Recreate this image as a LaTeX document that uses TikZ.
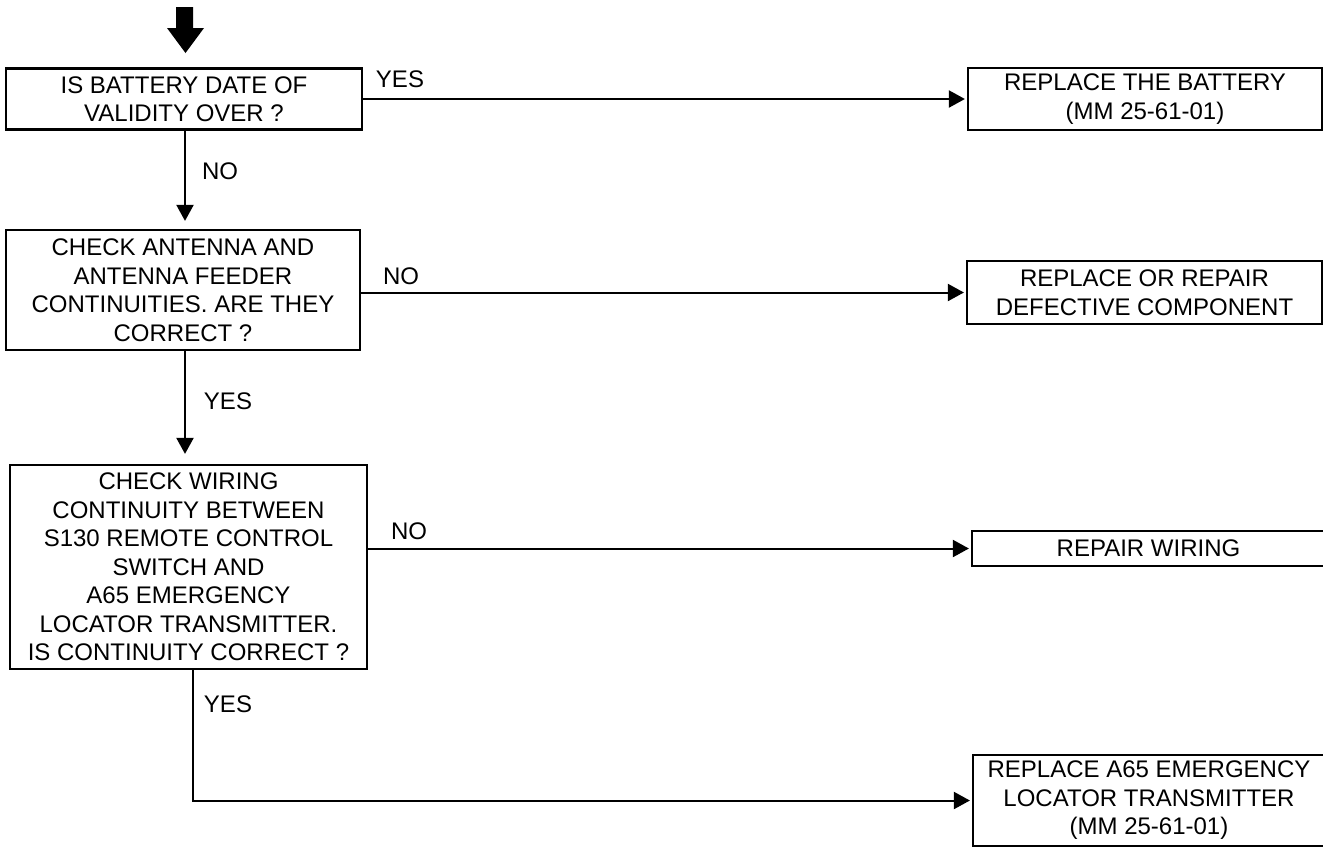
\documentclass[tikz,border=0pt]{standalone}
\usepackage{fontspec}
\setmainfont{Liberation Sans}
\usetikzlibrary{arrows.meta,calc}
\begin{document}
\begin{tikzpicture}[x=1pt,y=-1pt,
  box/.style={draw, line width=2.2pt, inner sep=0pt, align=center, font=\fontsize{24}{28.5}\selectfont},
  lbl/.style={inner sep=0pt, font=\fontsize{24}{28.5}\selectfont},
  arr/.style={line width=2pt, -{Triangle[length=16pt,width=17pt]}},
  conn/.style={line width=2pt}]
\useasboundingbox (0,0) rectangle (1323,847);
% boxes
\node[box, minimum width=356pt, minimum height=61pt] (b1) at (184,99) {IS BATTERY DATE OF\\VALIDITY OVER ?};
\node[box, minimum width=354pt, minimum height=62pt] (r1) at (1145,99) {REPLACE THE BATTERY\\(MM 25-61-01)};
\node[box, minimum width=354pt, minimum height=120pt] (b2) at (183,290) {CHECK ANTENNA AND\\ANTENNA FEEDER\\CONTINUITIES. ARE THEY\\CORRECT ?};
\node[box, minimum width=355pt, minimum height=63pt] (r2) at (1144.5,292.5) {REPLACE OR REPAIR\\DEFECTIVE COMPONENT};
\node[box, minimum width=357pt, minimum height=204pt] (b3) at (188.5,567) {CHECK WIRING\\CONTINUITY BETWEEN\\S130 REMOTE CONTROL\\SWITCH AND\\A65 EMERGENCY\\LOCATOR TRANSMITTER.\\IS CONTINUITY CORRECT ?};
\node[box, minimum width=353pt, minimum height=35pt] (r3) at (1148.5,548.5) {REPAIR WIRING};
\node[box, minimum width=352pt, minimum height=91pt] (r4) at (1149,800.5) {REPLACE A65 EMERGENCY\\LOCATOR TRANSMITTER\\(MM 25-61-01)};
% entry arrow
\coordinate (start) at (185,7);
\fill (176,7) -- (193,7) -- (193,28) -- (204,28) -- (185.5,53) -- (167,28) -- (176,28) -- cycle;
% connectors
\draw[arr, shorten >=2pt] (b1.east |- r1.west) -- (r1.west);
\draw[arr, shorten >=8pt] ([xshift=1pt]b1.south) -- ([xshift=1pt]b1.south |- b2.north);
\draw[arr, shorten >=2pt] (b2.east |- r2.west) -- (r2.west);
\draw[arr, shorten >=10pt] ([xshift=2pt]b2.south) -- ([xshift=2pt]b2.south |- b3.north);
\draw[arr, shorten >=2pt] (b3.east |- r3.west) -- (r3.west);
\draw[arr, shorten >=2pt] ([xshift=4.5pt]b3.south) |- (r4.west);
% labels
\node[lbl] (y1) at (400,79) {YES};
\node[lbl] (n1) at (220,171) {NO};
\node[lbl] (n2) at (401,276) {NO};
\node[lbl] (y2) at (228,401) {YES};
\node[lbl] (n3) at (409,531) {NO};
\node[lbl] (y3) at (228,704) {YES};
\end{tikzpicture}
\end{document}
